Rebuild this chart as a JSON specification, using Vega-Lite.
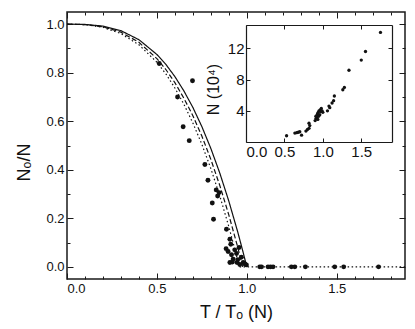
{
  "$schema": "https://vega.github.io/schema/vega-lite/v6.json",
  "width": 338,
  "height": 267,
  "autosize": "none",
  "padding": {"left": 67, "top": 12, "right": 10, "bottom": 50},
  "background": "white",
  "config": {
    "view": {"stroke": "#1a1a1a", "strokeWidth": 1.5},
    "axis": {
      "labelFont": "Liberation Sans",
      "labelFontSize": 13,
      "labelColor": "#111",
      "titleFont": "Liberation Sans",
      "titleFontSize": 18,
      "titleFontWeight": "normal",
      "titleColor": "#111",
      "tickColor": "#1a1a1a",
      "domainColor": "#1a1a1a",
      "grid": false
    }
  },
  "datasets": {
    "curves": [
      {"t": 0, "v": 1, "c": "solid"}, {"t": 0.1, "v": 0.999, "c": "solid"}, {"t": 0.2, "v": 0.992, "c": "solid"},
      {"t": 0.3, "v": 0.973, "c": "solid"}, {"t": 0.4, "v": 0.936, "c": "solid"}, {"t": 0.5, "v": 0.875, "c": "solid"},
      {"t": 0.55, "v": 0.834, "c": "solid"}, {"t": 0.6, "v": 0.784, "c": "solid"}, {"t": 0.65, "v": 0.725, "c": "solid"},
      {"t": 0.7, "v": 0.657, "c": "solid"}, {"t": 0.75, "v": 0.578, "c": "solid"}, {"t": 0.8, "v": 0.488, "c": "solid"},
      {"t": 0.85, "v": 0.386, "c": "solid"}, {"t": 0.9, "v": 0.271, "c": "solid"}, {"t": 0.95, "v": 0.143, "c": "solid"},
      {"t": 0.98, "v": 0.059, "c": "solid"}, {"t": 1.0, "v": 0, "c": "solid"},
      {"t": 0, "v": 1, "c": "dashed"}, {"t": 0.1, "v": 0.998, "c": "dashed"}, {"t": 0.2, "v": 0.989, "c": "dashed"},
      {"t": 0.3, "v": 0.967, "c": "dashed"}, {"t": 0.4, "v": 0.925, "c": "dashed"}, {"t": 0.5, "v": 0.858, "c": "dashed"},
      {"t": 0.55, "v": 0.813, "c": "dashed"}, {"t": 0.6, "v": 0.759, "c": "dashed"}, {"t": 0.65, "v": 0.695, "c": "dashed"},
      {"t": 0.7, "v": 0.623, "c": "dashed"}, {"t": 0.75, "v": 0.539, "c": "dashed"}, {"t": 0.8, "v": 0.443, "c": "dashed"},
      {"t": 0.85, "v": 0.335, "c": "dashed"}, {"t": 0.9, "v": 0.214, "c": "dashed"}, {"t": 0.95, "v": 0.08, "c": "dashed"},
      {"t": 0.977, "v": 0, "c": "dashed"},
      {"t": 0, "v": 1, "c": "dotted"}, {"t": 0.1, "v": 0.998, "c": "dotted"}, {"t": 0.2, "v": 0.987, "c": "dotted"},
      {"t": 0.3, "v": 0.961, "c": "dotted"}, {"t": 0.4, "v": 0.915, "c": "dotted"}, {"t": 0.5, "v": 0.843, "c": "dotted"},
      {"t": 0.55, "v": 0.795, "c": "dotted"}, {"t": 0.6, "v": 0.737, "c": "dotted"}, {"t": 0.65, "v": 0.67, "c": "dotted"},
      {"t": 0.7, "v": 0.593, "c": "dotted"}, {"t": 0.75, "v": 0.505, "c": "dotted"}, {"t": 0.8, "v": 0.405, "c": "dotted"},
      {"t": 0.85, "v": 0.292, "c": "dotted"}, {"t": 0.9, "v": 0.166, "c": "dotted"}, {"t": 0.95, "v": 0.026, "c": "dotted"},
      {"t": 0.958, "v": 0, "c": "dotted"}, {"t": 1.2, "v": 0, "c": "dotted"}, {"t": 1.5, "v": 0, "c": "dotted"},
      {"t": 1.88, "v": 0, "c": "dotted"}
    ],
    "pts": [
      {"t": 0.513, "v": 0.838}, {"t": 0.698, "v": 0.767}, {"t": 0.615, "v": 0.7}, {"t": 0.646, "v": 0.577},
      {"t": 0.68, "v": 0.52}, {"t": 0.767, "v": 0.422}, {"t": 0.784, "v": 0.357}, {"t": 0.808, "v": 0.263},
      {"t": 0.815, "v": 0.196}, {"t": 0.83, "v": 0.317}, {"t": 0.838, "v": 0.292}, {"t": 0.846, "v": 0.306},
      {"t": 0.887, "v": 0.155}, {"t": 0.906, "v": 0.114}, {"t": 0.911, "v": 0.093}, {"t": 0.885, "v": 0.075},
      {"t": 0.896, "v": 0.063}, {"t": 0.915, "v": 0.05}, {"t": 0.924, "v": 0.032}, {"t": 0.906, "v": 0.018},
      {"t": 0.943, "v": 0.055}, {"t": 0.957, "v": 0.08}, {"t": 0.933, "v": 0.07}, {"t": 0.946, "v": 0.018},
      {"t": 0.961, "v": 0.01}, {"t": 0.98, "v": 0.018}, {"t": 0.998, "v": 0.008}, {"t": 0.97, "v": 0.04},
      {"t": 0.92, "v": 0.02}, {"t": 0.95, "v": 0.03}, {"t": 0.99, "v": 0.012},
      {"t": 1.072, "v": 0}, {"t": 1.082, "v": 0}, {"t": 1.118, "v": 0}, {"t": 1.132, "v": 0}, {"t": 1.146, "v": 0},
      {"t": 1.248, "v": 0}, {"t": 1.267, "v": 0}, {"t": 1.326, "v": 0}, {"t": 1.489, "v": 0}, {"t": 1.539, "v": 0},
      {"t": 1.733, "v": 0}
    ],
    "ins": [
      {"t": 0.528, "n": 0.8}, {"t": 0.636, "n": 1.14}, {"t": 0.66, "n": 1.2}, {"t": 0.68, "n": 1.25}, {"t": 0.7, "n": 1.31},
      {"t": 0.723, "n": 0.88}, {"t": 0.78, "n": 1.4}, {"t": 0.8, "n": 1.6}, {"t": 0.82, "n": 1.75}, {"t": 0.83, "n": 2.1},
      {"t": 0.82, "n": 2.4}, {"t": 0.9, "n": 2.75}, {"t": 0.91, "n": 3.0}, {"t": 0.92, "n": 3.2}, {"t": 0.925, "n": 3.4},
      {"t": 0.93, "n": 3.6}, {"t": 0.94, "n": 3.8}, {"t": 0.945, "n": 3.3}, {"t": 0.95, "n": 4.0}, {"t": 0.96, "n": 3.5},
      {"t": 0.965, "n": 4.1}, {"t": 0.975, "n": 3.9}, {"t": 0.98, "n": 4.3}, {"t": 0.99, "n": 4.0}, {"t": 1.0, "n": 3.8},
      {"t": 0.91, "n": 3.3}, {"t": 0.935, "n": 2.9}, {"t": 1.06, "n": 4.0}, {"t": 1.08, "n": 4.6}, {"t": 1.09, "n": 4.4},
      {"t": 1.12, "n": 5.0}, {"t": 1.14, "n": 5.3}, {"t": 1.15, "n": 5.9}, {"t": 1.26, "n": 6.7}, {"t": 1.28, "n": 7.0},
      {"t": 1.34, "n": 9.2}, {"t": 1.5, "n": 10.5}, {"t": 1.555, "n": 11.6}, {"t": 1.75, "n": 14.05}
    ]
  },
  "resolve": {"scale": {"x": "independent", "y": "independent"}},
  "layer": [
    {
      "layer": [
        {
          "data": {"name": "curves"},
          "mark": {"type": "line", "color": "#111", "strokeWidth": 1.2},
          "encoding": {
            "x": {"field": "t", "type": "quantitative"},
            "y": {"field": "v", "type": "quantitative"},
            "detail": {"field": "c"},
            "strokeDash": {"field": "c", "type": "nominal", "legend": null,
              "scale": {"domain": ["solid", "dashed", "dotted"], "range": [[1, 0], [5, 2.5], [1.5, 2.5]]}}
          }
        },
        {
          "data": {"name": "pts"},
          "mark": {"type": "circle", "color": "#111", "opacity": 1, "size": 24},
          "encoding": {
            "x": {"field": "t", "type": "quantitative"},
            "y": {"field": "v", "type": "quantitative"}
          }
        }
      ],
      "encoding": {
        "x": {"field": "t", "type": "quantitative",
          "scale": {"domain": [0, 1.88], "nice": false, "zero": false},
          "axis": {"orient": "bottom", "values": [0, 0.5, 1, 1.5], "format": ".1f", "tickSize": -6, "domain": false,
            "labelPadding": 9, "title": "T / Tₒ (N)", "titlePadding": 8}},
        "y": {"field": "v", "type": "quantitative",
          "scale": {"domain": [-0.05, 1.05], "nice": false, "zero": false},
          "axis": {"orient": "left", "values": [0, 0.2, 0.4, 0.6, 0.8, 1.0], "format": ".1f", "tickSize": -6, "domain": false,
            "labelPadding": 9, "title": "Nₒ/N", "titlePadding": 12, "titleY": 150}}
      }
    },
    {
      "data": {"name": "pts"},
      "mark": {"type": "point", "opacity": 0},
      "encoding": {
        "x": {"field": "t", "type": "quantitative",
          "scale": {"domain": [0, 1.88], "nice": false, "zero": false},
          "axis": {"orient": "bottom", "values": [0.1, 0.2, 0.3, 0.4, 0.6, 0.7, 0.8, 0.9, 1.1, 1.2, 1.3, 1.4, 1.6, 1.7, 1.8],
            "tickSize": -3, "labels": false, "domain": false, "title": null}},
        "y": {"field": "v", "type": "quantitative",
          "scale": {"domain": [-0.05, 1.05], "nice": false, "zero": false},
          "axis": {"orient": "left", "values": [0.1, 0.3, 0.5, 0.7, 0.9], "tickSize": -3, "labels": false, "domain": false, "title": null}}
      }
    },
    {
      "data": {"name": "pts"},
      "mark": {"type": "point", "opacity": 0},
      "encoding": {
        "x": {"field": "t", "type": "quantitative",
          "scale": {"domain": [0, 1.88], "nice": false, "zero": false},
          "axis": {"orient": "top", "values": [0, 0.5, 1, 1.5], "tickSize": -6, "labels": false, "domain": false, "title": null}},
        "y": {"field": "v", "type": "quantitative",
          "scale": {"domain": [-0.05, 1.05], "nice": false, "zero": false},
          "axis": {"orient": "right", "values": [0, 0.2, 0.4, 0.6, 0.8, 1.0], "tickSize": -6, "labels": false, "domain": false, "title": null}}
      }
    },
    {
      "data": {"name": "pts"},
      "mark": {"type": "point", "opacity": 0},
      "encoding": {
        "x": {"field": "t", "type": "quantitative",
          "scale": {"domain": [0, 1.88], "nice": false, "zero": false},
          "axis": {"orient": "top", "values": [0.1, 0.2, 0.3, 0.4, 0.6, 0.7, 0.8, 0.9, 1.1, 1.2, 1.3, 1.4, 1.6, 1.7, 1.8],
            "tickSize": -3, "labels": false, "domain": false, "title": null}},
        "y": {"field": "v", "type": "quantitative",
          "scale": {"domain": [-0.05, 1.05], "nice": false, "zero": false},
          "axis": {"orient": "right", "values": [0.1, 0.3, 0.5, 0.7, 0.9], "tickSize": -3, "labels": false, "domain": false, "title": null}}
      }
    },
    {
      "data": {"name": "ins"},
      "mark": {"type": "circle", "color": "#111", "opacity": 1, "size": 11},
      "encoding": {
        "x": {"field": "t", "type": "quantitative",
          "scale": {"domain": [0, 1.9], "nice": false, "zero": false, "range": [179, 325]},
          "axis": {"orient": "bottom", "offset": -137, "values": [0, 0.5, 1, 1.5], "format": ".1f", "tickSize": -4,
            "domain": true, "domainWidth": 1.2, "labelPadding": 6, "labelFontSize": 15, "title": null}},
        "y": {"field": "n", "type": "quantitative",
          "scale": {"domain": [0, 15], "nice": false, "zero": false, "range": [130, 13]},
          "axis": {"orient": "left", "offset": -179, "values": [4, 8, 12], "tickSize": -4,
            "domain": true, "domainWidth": 1.2, "labelPadding": 6, "labelFontSize": 15,
            "title": "N (10⁴)", "titleFontSize": 16, "titlePadding": 6, "titleY": 77}}
      }
    },
    {
      "data": {"name": "ins"},
      "mark": {"type": "point", "opacity": 0},
      "encoding": {
        "x": {"field": "t", "type": "quantitative",
          "scale": {"domain": [0, 1.9], "nice": false, "zero": false, "range": [179, 325]},
          "axis": {"orient": "top", "offset": -13, "values": [0, 0.5, 1, 1.5], "tickSize": -4,
            "domain": true, "domainWidth": 1.2, "labels": false, "title": null}},
        "y": {"field": "n", "type": "quantitative",
          "scale": {"domain": [0, 15], "nice": false, "zero": false, "range": [130, 13]},
          "axis": {"orient": "right", "offset": -13, "values": [4, 8, 12], "tickSize": -4,
            "domain": true, "domainWidth": 1.2, "labels": false, "title": null}}
      }
    }
  ]
}
